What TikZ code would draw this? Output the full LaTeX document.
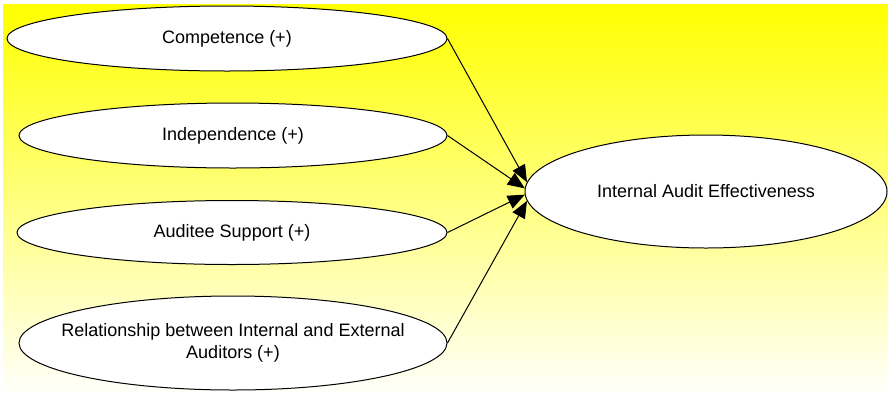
\documentclass[tikz,border=0pt]{standalone}
\usepackage{fontspec}
\setmainfont{Liberation Sans}
\usetikzlibrary{shapes,arrows.meta}

\begin{document}
\begin{tikzpicture}[x=0.5pt,y=-0.5pt,>={Triangle[length=8.5pt,width=7pt]},
    factor/.style={ellipse,draw,fill=white,line width=0.5pt,inner sep=0pt,align=center,font=\fontsize{9}{11}\selectfont}]
    % background
    \useasboundingbox (0,0) rectangle (888,392);
    \shade[top color=yellow,bottom color=yellow!2] (3,4) rectangle (888,392);
    % factors
    \node[factor,minimum width=220pt,minimum height=32.5pt] (comp) at (227,38.5) {Competence (+)};
    \node[factor,minimum width=214pt,minimum height=32.5pt] (indep) at (233,135.5) {Independence (+)};
    \node[factor,minimum width=215pt,minimum height=32pt] (support) at (232,232.5) {Auditee Support (+)};
    \node[factor,minimum width=214pt,minimum height=47pt,inner xsep=-15pt] (relat) at (233,343) {Relationship between Internal and External\\Auditors (+)};
    % outcome
    \node[factor,minimum width=181pt,minimum height=56.5pt] (iae) at (706,191.5) {Internal Audit Effectiveness};
    % links
    \draw[->,line width=0.5pt] (comp.east) -- (iae.177);
    \draw[->,line width=0.5pt] (indep.east) -- (iae.179);
    \draw[->,line width=0.5pt] (support.east) -- (iae.181);
    \draw[->,line width=0.5pt] (relat.east) -- (iae.183);
\end{tikzpicture}
\end{document}
